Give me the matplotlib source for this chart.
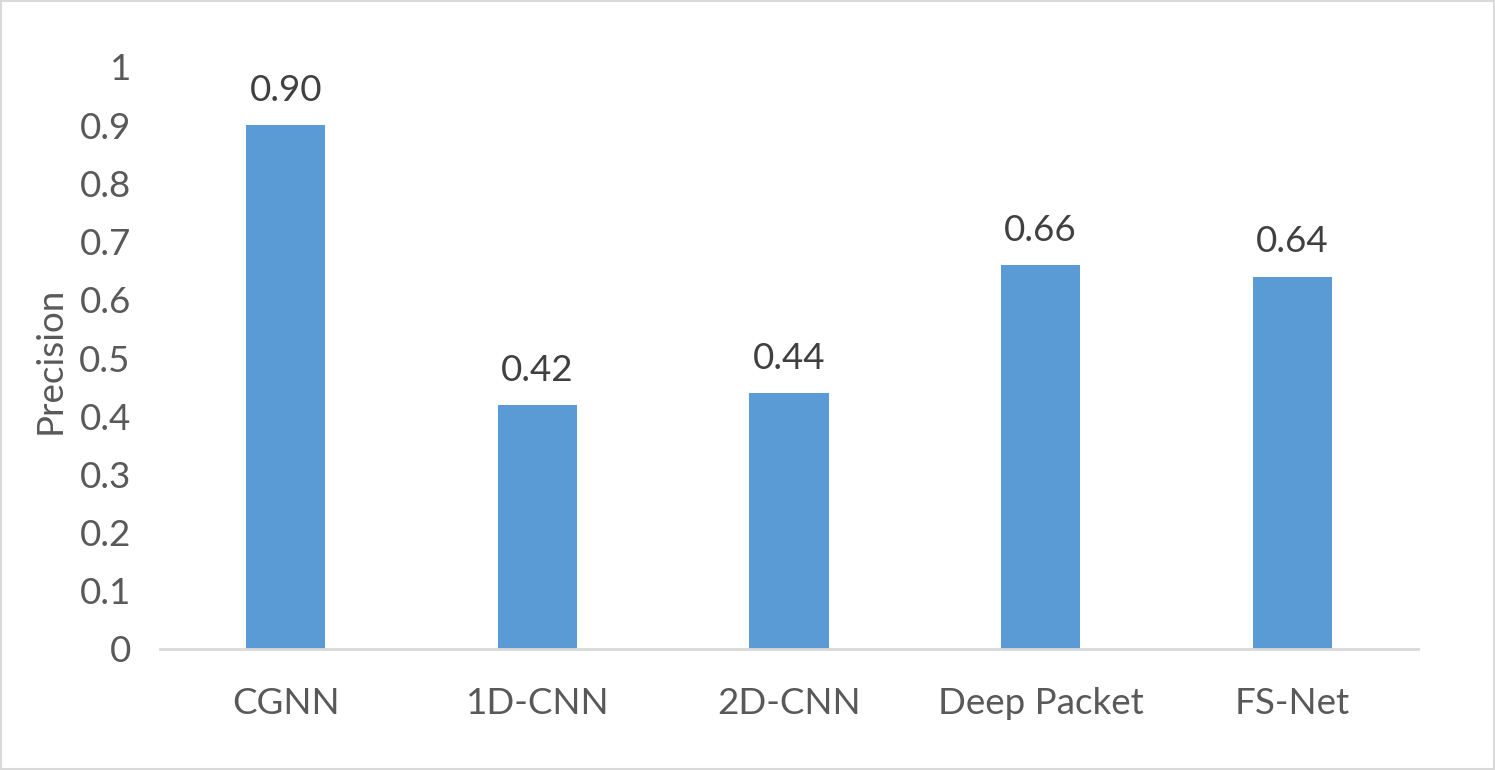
import matplotlib
matplotlib.use("Agg")
import matplotlib.pyplot as plt
from matplotlib.patches import Rectangle

categories = ["CGNN", "1D-CNN", "2D-CNN", "Deep Packet", "FS-Net"]
precision = [0.90, 0.42, 0.44, 0.66, 0.64]
yticks = [0, 0.1, 0.2, 0.3, 0.4, 0.5, 0.6, 0.7, 0.8, 0.9, 1]
yticklabels = ["0", "0.1", "0.2", "0.3", "0.4", "0.5", "0.6", "0.7", "0.8", "0.9", "1"]

plt.rcParams['font.family'] = ['Lato', 'DejaVu Sans']
txt = "#595959"
fs = 26.5

fig = plt.figure(figsize=(14.95, 7.7), dpi=100)
ax = fig.add_axes([160/1495, 1-649/770, (1418-160)/1495, (649-67)/770])

x = range(len(categories))
ax.bar(x, precision, width=0.315, color="#5b9bd5", zorder=2)
for xi, v in zip(x, precision):
    ax.annotate(f"{v:.2f}", (xi, v), xytext=(0, 13), textcoords="offset points",
                ha="center", va="bottom", fontsize=fs, color="#404040")

ax.set_xlim(-0.5, len(categories)-0.5)
ax.set_ylim(0, 1)
ax.set_yticks(yticks)
ax.set_yticklabels(yticklabels)
ax.set_xticks(list(x))
ax.set_xticklabels(categories)
ax.tick_params(axis='y', length=0, pad=21, labelsize=fs, labelcolor=txt)
ax.tick_params(axis='x', length=0, pad=27, labelsize=fs, labelcolor=txt)
for s in ["top", "right", "left"]:
    ax.spines[s].set_visible(False)
ax.spines["bottom"].set_color("#d9d9d9")
ax.spines["bottom"].set_linewidth(2)
fig.text(50/1495, 1-360/770, "Precision", rotation=90, ha="center", va="center",
         fontsize=fs, color=txt)

fig.patches.append(Rectangle((1/1495, 1/770), 1-2/1495, 1-2/770, transform=fig.transFigure,
                             fill=False, edgecolor="#d9d9d9", linewidth=1.5))

fig.savefig("out.png", dpi=100, facecolor="white")
